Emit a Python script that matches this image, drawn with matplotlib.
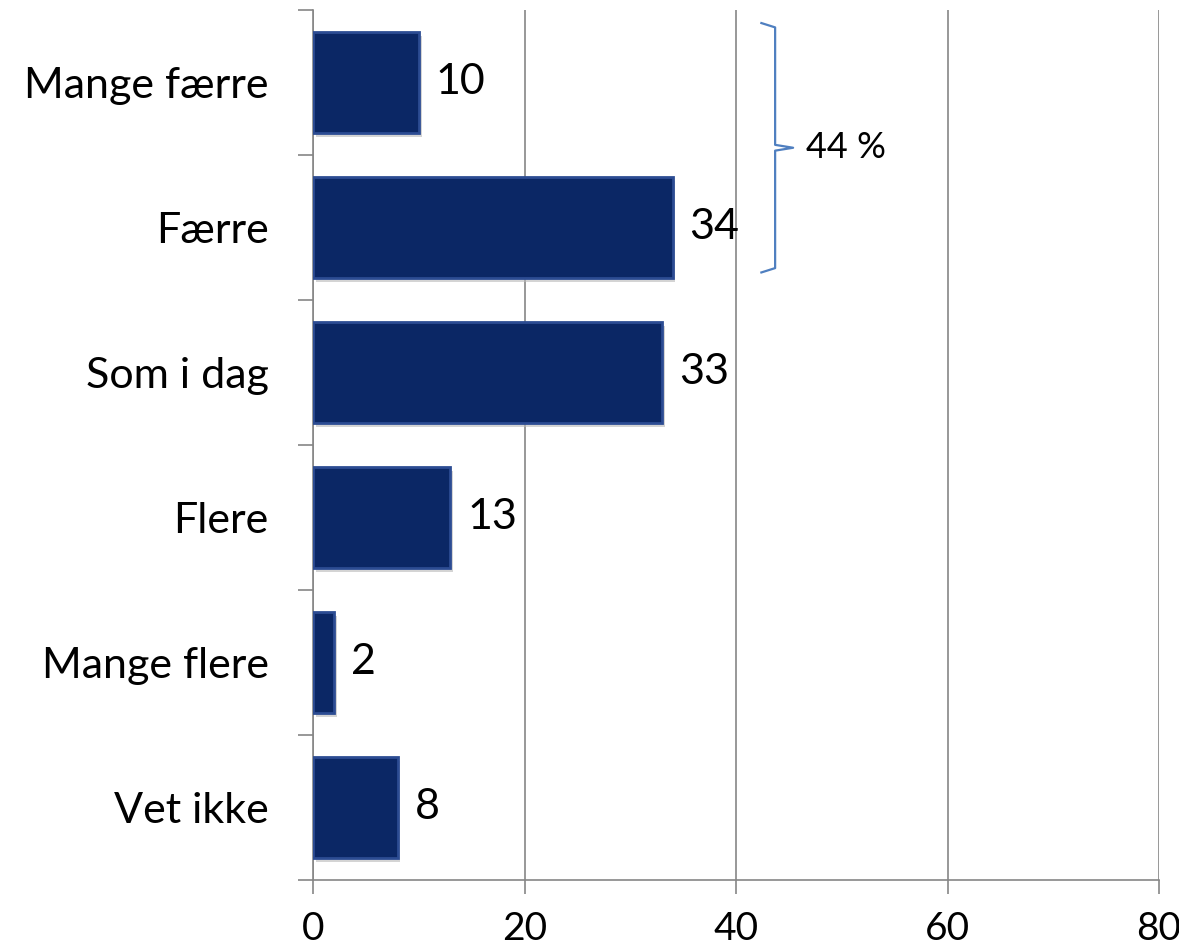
import matplotlib.pyplot as plt
import matplotlib.patheffects as pe

categories = ['Mange færre', 'Færre', 'Som i dag', 'Flere', 'Mange flere', 'Vet ikke']
values = [10, 34, 33, 13, 2, 8]
xticks = [0, 20, 40, 60, 80]
bracket_label = '44 %'

plt.rcParams['font.family'] = ['Lato', 'DejaVu Sans']

fig = plt.figure(figsize=(11.79, 9.43), dpi=100)
ax = fig.add_axes([313 / 1179, 1 - 880 / 943, (1159 - 313) / 1179, 870 / 943])

pos = list(range(len(categories)))
bars = ax.barh(pos, values, height=0.70, color='#0b2765', edgecolor='#2c4c93',
               linewidth=2, zorder=3)
for b in bars:
    b.set_path_effects([pe.SimplePatchShadow(offset=(2, -3), shadow_rgbFace='#b8b8b8', alpha=0.6),
                        pe.Normal()])

for p, v in zip(pos, values):
    ax.text(v + 1.6, p, str(v), va='center', ha='left', fontsize=31, color='black', zorder=4)

ax.set_xlim(0, 80)
ax.set_ylim(len(categories) - 0.5, -0.5)
ax.set_xticks(xticks)
ax.set_xticklabels([str(t) for t in xticks], fontsize=28)
ax.set_yticks(pos)
ax.set_yticklabels(categories, fontsize=31)
ax.set_yticks([i - 0.5 for i in range(len(categories) + 1)], minor=True)

ax.tick_params(axis='y', which='major', length=0, pad=32)
ax.tick_params(axis='y', which='minor', length=11, color='#868686', width=1.2)
ax.tick_params(axis='x', length=10, color='#868686', width=1.2, pad=12)

ax.grid(axis='x', color='#868686', linewidth=1.2, zorder=0)
for s in ['top', 'right']:
    ax.spines[s].set_visible(False)
for s in ['left', 'bottom']:
    ax.spines[s].set_color('#868686')
    ax.spines[s].set_linewidth(1.2)
ax.set_axisbelow(True)

# brace over first two categories
bx, by0, by1, bym = 43.7, -0.41, 1.31, 0.45
ax.plot([bx - 1.3, bx, bx, bx + 1.7, bx, bx, bx - 1.3],
        [by0, by0 + 0.03, bym - 0.02, bym, bym + 0.02, by1 - 0.03, by1],
        color='#4f7fc0', linewidth=1.6, clip_on=False, zorder=4)
ax.text(46.6, bym, bracket_label, va='center', ha='left', fontsize=26, color='black')

plt.savefig('out.png', dpi=100)
